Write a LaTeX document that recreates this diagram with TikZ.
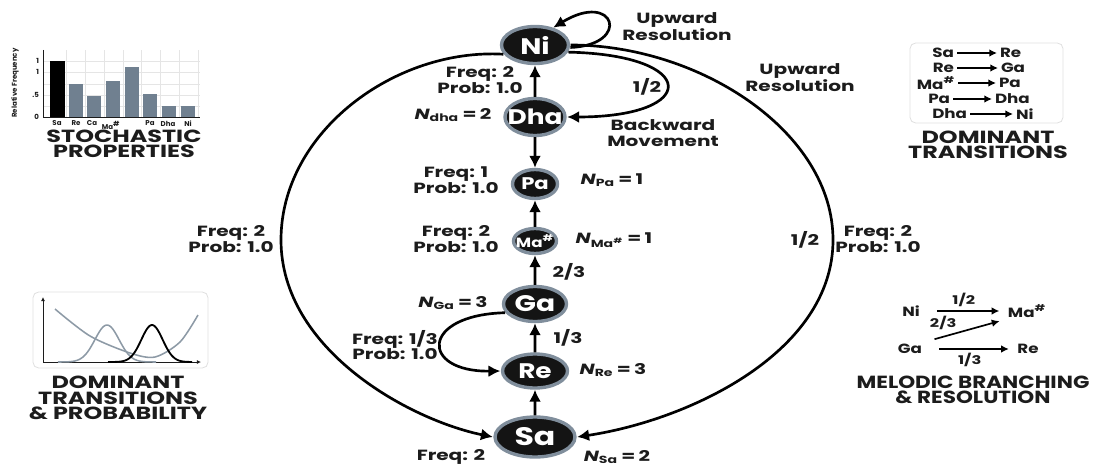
\documentclass[tikz,border=0pt]{standalone}
\usepackage{fontspec}
\setmainfont{Poppins}
\usepackage{tikz}
\usetikzlibrary{
  arrows.meta,%
  % ellipse nodes for the swaras
  shapes.geometric,%
  positioning,
  calc
}
\definecolor{ring}{RGB}{128,142,156}
\definecolor{barblue}{RGB}{112,128,144}
\definecolor{ink}{RGB}{28,28,28}
\tikzset{>={Latex[length=8.5pt,width=8.5pt]}}
\tikzset{
  swara/.style={ellipse, fill=black!92, draw=ring, line width=2.4pt, text=white,
    inner xsep=-4pt, inner ysep=0pt, xscale=1.25},
  lbl/.style={font=\bfseries\fontsize{10.5}{11}\selectfont, align=center, text=ink, xscale=1.36},
  head/.style={font=\bfseries\fontsize{12.5}{11}\selectfont, align=center, text=ink, xscale=1.36},
  item/.style={font=\bfseries\fontsize{9.5}{10}\selectfont, text=ink, inner sep=1.5pt, xscale=1.25},
  tiny/.style={font=\bfseries\fontsize{5}{5.5}\selectfont, text=ink, inner sep=0.5pt},
  link/.style={->, line width=1.9pt},
  thinlink/.style={-{Latex[length=5.5pt,width=5.5pt]}, line width=1.2pt},
  panel/.style={draw=black!12, rounded corners=4pt, line width=0.6pt}
}
\newcommand{\Nlab}[2]{{\itshape N}\textsubscript{#1}\,=\,#2}
\newcommand{\Mash}{Ma\textsuperscript{\#}}

\begin{document}
\begin{tikzpicture}[x=0.025cm, y=-0.025cm]
  \useasboundingbox (0,0) rectangle (1096,466);

  % swaras
  \node[swara, minimum width=1.34cm, minimum height=0.925cm, font=\bfseries\fontsize{16}{16}\selectfont] (ni) at (535,45) {Ni};
  \node[swara, minimum width=1.2cm, minimum height=0.925cm, font=\bfseries\fontsize{15}{15}\selectfont] (dha) at (535,117) {Dha};
  \node[swara, minimum width=0.9cm, minimum height=0.725cm, font=\bfseries\fontsize{12}{12}\selectfont] (pa) at (535,184) {Pa};
  \node[swara, minimum width=0.86cm, minimum height=0.625cm, font=\bfseries\fontsize{9.5}{9.5}\selectfont] (ma) at (535,241) {\Mash};
  \node[swara, minimum width=1.26cm, minimum height=0.875cm, font=\bfseries\fontsize{16}{16}\selectfont] (ga) at (535,304) {Ga};
  \node[swara, minimum width=1.3cm, minimum height=0.85cm, font=\bfseries\fontsize{15}{15}\selectfont] (re) at (535,371) {Re};
  \node[swara, minimum width=1.6cm, minimum height=1.0cm, font=\bfseries\fontsize{18}{18}\selectfont] (sa) at (535,437) {Sa};

  \draw[link] (dha) -- (ni);
  \draw[link] (dha) -- (pa);
  \draw[link] (ma) -- (pa);
  \draw[link] (ga) -- (ma);
  \draw[link] (re) -- (ga);
  \draw[link] (sa) -- (re);

  % outer arcs, loop and back arcs
  \draw[link] (ni.200) .. controls (395,48) and (281,132) .. (281,240)
    .. controls (281,350) and (410,420) .. (sa.west);
  \draw[link] (ni.east) .. controls (700,45) and (833,132) .. (833,240)
    .. controls (833,352) and (690,420) .. (sa.east);
  \draw[link] (ni.-5) .. controls (632,45) and (615,-10) .. (ni.50);
  \draw[link] (ni.-15) .. controls (700,55) and (700,117) .. (dha.east);
  \draw[link] (ga.200) .. controls (420,315) and (420,372) .. (re.west);

  % labels round the chain
  \node[lbl] (upres1) at (677,27) {Upward\\Resolution};
  \node[lbl] (upres2) at (800,78) {Upward\\Resolution};
  \node[lbl] (fqni) at (480,80) {Freq: 2\\Prob: 1.0};
  \node[lbl] (halfb) at (647,87) {1/2};
  \node[lbl] (ndha) at (453,115) {\Nlab{dha}{2}};
  \node[lbl] (back) at (663,133) {Backward\\Movement};
  \node[lbl] (fqpa) at (456,180) {Freq: 1\\Prob: 1.0};
  \node[lbl] (npa) at (612,180) {\Nlab{Pa}{1}};
  \node[lbl] (fqma) at (456,239) {Freq: 2\\Prob: 1.0};
  \node[lbl] (nma) at (614,240) {\Nlab{\Mash}{1}};
  \node[lbl] (twothird) at (569,272) {2/3};
  \node[lbl] (nga) at (453,303) {\Nlab{Ga}{3}};
  \node[lbl] (third) at (568,338) {1/3};
  \node[lbl] (fqre) at (395,345) {Freq: 1/3\\Prob: 1.0};
  \node[lbl] (nre) at (613,370) {\Nlab{Re}{3}};
  \node[lbl] (fqsa) at (451,457) {Freq: 2};
  \node[lbl] (nsa) at (617,457) {\Nlab{Sa}{2}};
  \node[lbl] (fqleft) at (231,239) {Freq: 2\\Prob: 1.0};
  \node[lbl] (halfr) at (805,240) {1/2};
  \node[lbl] (fqright) at (878,239) {Freq: 2\\Prob: 1.0};

  % stochastic properties: bar chart
  \foreach \x in {66,85,104,123,141,160,179,198}
    \draw[black!10, line width=0.4pt] (\x,50) -- (\x,117);
  \foreach \y in {61,72,84,95,106}
    \draw[black!10, line width=0.4pt] (43,\y) -- (200,\y);
  \fill[black] (50,117) rectangle (65,61);
  \foreach \x/\t in {69/84, 87/96, 106/81, 125/67, 143/94, 162/106, 181/106}
    \fill[barblue] (\x,117) rectangle (\x+14,\t);
  \draw[ink, line width=0.6pt] (43,50) -- (43,117) -- (200,117);
  \foreach \y/\t in {61/1, 72/1, 95/.5, 117/0}
    \node[tiny, anchor=east] at (40,\y) {\t};
  \foreach \x/\t in {57/Sa, 76/Re, 92/Ca, 111/\Mash, 150/Pa, 168/Dha, 188/Ni}
    \node[tiny, anchor=north] at (\x,120) {\t};
  \node[tiny, rotate=90] (relfreq) at (15,83) {Relative Frequency};
  \node[head] (stoch) at (124,144) {STOCHASTIC\\PROPERTIES};

  % dominant transitions & probability
  \draw[panel] (33,292) rectangle (208,368);
  \draw[->, ink, line width=0.7pt, >={Latex[length=3pt,width=3pt]}] (43,362) -- (43,297);
  \draw[->, ink, line width=0.7pt, >={Latex[length=3pt,width=3pt]}] (43,362) -- (201,362);
  \draw[barblue!80, line width=1.1pt, smooth] plot coordinates {(55,309) (90,336) (130,353) (155,357) (180,342) (198,315)};
  \draw[barblue!80, line width=1.1pt, domain=58:156, samples=60, smooth]
    plot ({\x}, {362-37*exp(-((\x-107)/17)^2)});
  \draw[black, line width=1.3pt, domain=108:192, samples=60, smooth]
    plot ({\x}, {362-37*exp(-((\x-152)/15)^2)});
  \node[head] (domprob) at (118,398) {DOMINANT\\TRANSITIONS\\\& PROBABILITY};

  % dominant transitions
  \draw[panel] (910,43) rectangle (1063,123);
  \foreach \a/\b/\y/\xa/\xb [count=\i] in {Sa/Re/53/957/997, Re/Ga/68/957/998,
      \Mash/Pa/83/958/996, Pa/Dha/99/953/992, Dha/Ni/114/970/1013} {
    \node[item, anchor=east] (tl\i) at (\xa,\y) {\a};
    \node[item, anchor=west] (tr\i) at (\xb,\y) {\b};
    \draw[thinlink] (tl\i) -- (tr\i);
  }
  \node[head] (domtr) at (988,145) {DOMINANT\\TRANSITIONS};

  % melodic branching
  \node[item] (bni) at (911,311) {Ni};
  \node[item] (bma) at (1027,311) {\Mash};
  \node[item] (bga) at (910,349) {Ga};
  \node[item] (bre) at (1028,349) {Re};
  \draw[thinlink, shorten <=10pt, shorten >=4pt] (bni) -- node[lbl, above=-1pt, font=\bfseries\fontsize{8.5}{9}\selectfont] {1/2} (bma);
  \draw[thinlink, shorten <=10pt, shorten >=4pt] (bga) -- node[lbl, below=-1pt, font=\bfseries\fontsize{8.5}{9}\selectfont] {1/3} (bre);
  \draw[thinlink, shorten <=7pt, shorten >=4pt] (bga.north east) -- node[lbl, pos=0.45, above left=-3pt, font=\bfseries\fontsize{8.5}{9}\selectfont] {2/3} (bma.south west);
  \node[head, xscale=0.9] (melodic) at (973,390) {MELODIC BRANCHING\\\& RESOLUTION};
\end{tikzpicture}
\end{document}
